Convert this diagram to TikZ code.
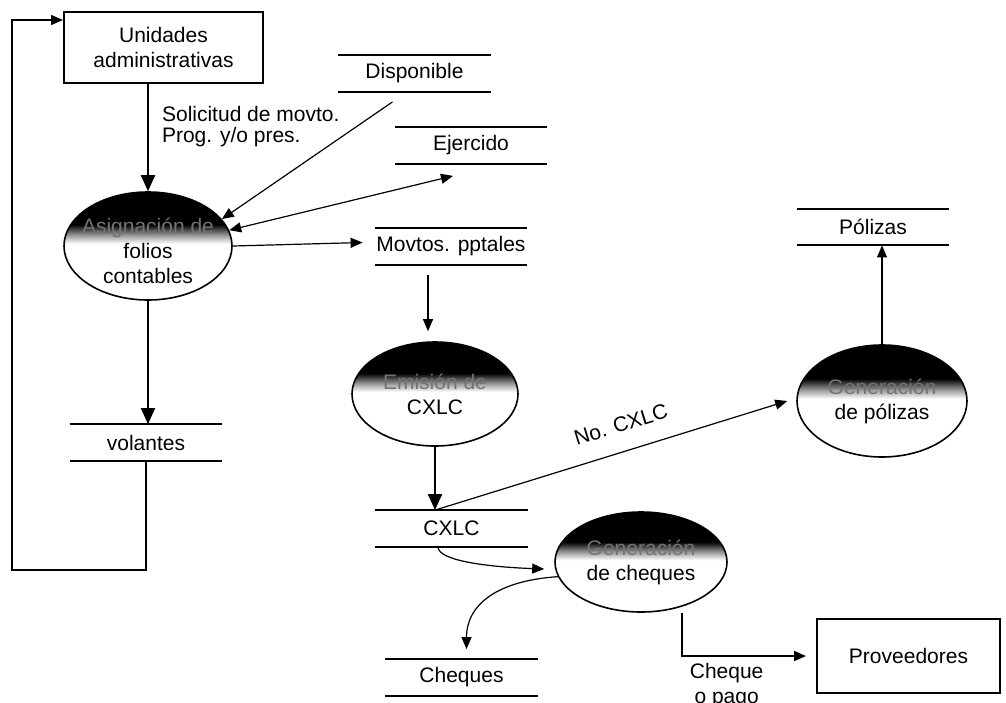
\documentclass[tikz,border=0pt]{standalone}
\usepackage{fontspec}
\setmainfont{Liberation Sans}
\usetikzlibrary{arrows.meta,shapes.geometric}
\pgfdeclareverticalshading{sombra}{100bp}{color(0bp)=(white); color(51bp)=(white); color(55bp)=(black!40); color(60bp)=(black); color(100bp)=(black)}

\begin{document}
\begin{tikzpicture}[x=0.5pt,y=-0.5pt,
  font=\fontsize{10.5}{12.5}\selectfont,
  flecha/.style={-{Triangle[length=6pt,width=5pt]},line width=0.6pt},
  flechagruesa/.style={-{Triangle[length=8pt,width=7pt]},line width=1pt},
  proceso/.style={ellipse,draw,line width=0.8pt,shading=sombra,inner sep=0pt},
  ptexto/.style={align=center,inner sep=0pt},
  almacen/.style={inner sep=0pt,minimum width=76pt,minimum height=18pt},
  linea/.style={line width=1pt},
  entidad/.style={draw,line width=1pt,align=center,inner sep=0pt}]
\useasboundingbox (0,0) rectangle (1006,702);

% entidades externas
\node[entidad,minimum width=99.5pt,minimum height=35.5pt] (unid) at (163.5,47.5) {Unidades\\administrativas};
\node[entidad,minimum width=91.5pt,minimum height=37pt] (prov) at (908.5,656) {Proveedores};

% almacenes
\node[almacen] (disp) at (414.5,73.5) {Disponible};
\node[almacen] (ejer) at (471,145.5) {Ejercido};
\node[almacen] (movt) at (451,246.5) {Movtos. pptales};
\node[almacen] (pol) at (873,227) {Pólizas};
\node[almacen] (vol) at (146,442.5) {volantes};
\node[almacen] (cxlc) at (451.5,528.5) {CXLC};
\node[almacen] (cheq) at (461.5,677.5) {Cheques};
\foreach \s in {disp,ejer,movt,pol,vol,cxlc,cheq}
  \draw[linea] (\s.north west) -- (\s.north east) (\s.south west) -- (\s.south east);

% procesos
\node[proceso,minimum width=84pt,minimum height=54pt] (asig) at (148,246) {};
\node[ptexto] (asig-t) at ([yshift=-2.5pt]asig.center) {\textcolor{black!55}{Asignación de}\\folios\\contables};
\node[proceso,minimum width=83pt,minimum height=52pt] (emis) at (435,394) {};
\node[ptexto] (emis-t) at (emis) {\textcolor{black!55}{Emisión de}\\CXLC};
\node[proceso,minimum width=85pt,minimum height=56pt] (genpol) at (882,401) {};
\node[ptexto] (genpol-t) at (genpol) {\textcolor{black!55}{Generación}\\de pólizas};
\node[proceso,minimum width=86pt,minimum height=50pt] (gencheq) at (641,562) {};
\node[ptexto] (gencheq-t) at (gencheq) {\textcolor{black!55}{Generación}\\de cheques};

% flujos
\draw[flechagruesa] (asig.north |- unid.south) -- (asig.north);
\node[anchor=west,align=left,font=\fontsize{10.5}{10.5}\selectfont] (solic) at (155,127) {Solicitud de movto.\\Prog. y/o pres.};
\draw[flecha] ([shift={(-22,10)}]disp.south) -- (asig.20);
\draw[{Triangle[length=6pt,width=5pt]}-{Triangle[length=6pt,width=5pt]},line width=0.6pt] (asig.11) -- ([shift={(-18,12)}]ejer.south);
\draw[flecha] (asig.east) -- ([shift={(-12,-4)}]movt.west);
\draw[flechagruesa] (asig.south) -- (asig.south |- vol.north);
\coordinate (esq) at (12,570);
\draw[flecha,line width=0.8pt] (vol.south) |- (esq) |- ([yshift=-4.5pt]unid.north west);

\draw[flecha] ([shift={(-23,10)}]movt.south) -- ([shift={(-7,-10)}]emis.north);
\draw[flechagruesa] (emis.south) -- (emis.south |- cxlc.north);
\draw[flecha] (emis.south |- cxlc.north) -- node[sloped,above=6pt,pos=0.55] (nocx) {No. CXLC} ([xshift=-4.5pt]genpol.west);
\draw[flecha] (genpol.north) -- (genpol.north |- pol.south);

\draw[flecha] ([xshift=-6.75pt]cxlc.south) .. controls +(0,14) and +(-55,-2) .. ([shift={(-10,7)}]gencheq.west);
\draw[flecha] (gencheq.190) .. controls +(-60,4) and +(0,-45) .. ([shift={(5,-10)}]cheq.north);
\draw[flecha,line width=0.8pt] ([xshift=20.5pt]gencheq.south) |- node[below,pos=0.68,align=center] (pago) {Cheque\\o pago} ([xshift=-5pt]prov.west);

\end{tikzpicture}
\end{document}
